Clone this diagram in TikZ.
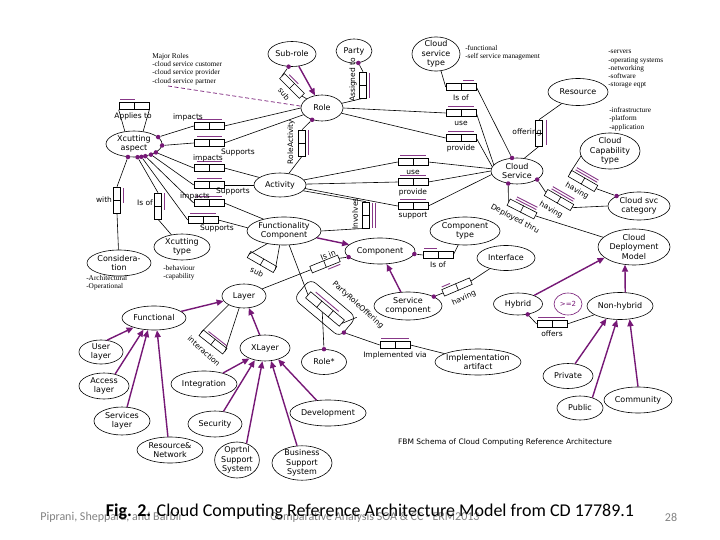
\documentclass[tikz,border=0pt]{standalone}
\usepackage{fontspec}
\setmainfont{DejaVu Sans}
\newfontfamily\annfont{Liberation Serif}
\newfontfamily\capfont{Carlito}
\usetikzlibrary{shapes.geometric,calc,arrows.meta}
\definecolor{pur}{RGB}{118,24,118}
\definecolor{barc}{RGB}{135,55,135}
\definecolor{footgray}{RGB}{130,130,130}
\tikzset{
 ent/.style={ellipse, draw, line width=0.6pt, inner sep=0pt, align=center, font=\fontsize{8}{9.5}\selectfont},
 sz/.style 2 args={minimum width=#1pt, minimum height=#2pt},
 relbox/.style={rectangle, draw, line width=0.6pt, inner sep=0pt, minimum height=7pt},
 ubarline/.style={draw=barc, line width=0.9pt},
 rlab/.style={font=\fontsize{7.5}{9}\selectfont, inner sep=0pt},
 ann/.style={font=\annfont\fontsize{7.3}{8.3}\selectfont, align=left, inner sep=0pt, anchor=north west},
 dot/.style={circle, fill=pur, inner sep=0pt, minimum size=4.5pt},
 isa/.style={draw=pur, line width=1.4pt, -{Triangle[length=7pt,width=6pt]}},
 foot/.style={font=\capfont\fontsize{12}{14}\selectfont, text=footgray, inner sep=0pt},
}
\newcommand\relnode[4][30]{\node[relbox, minimum width=#1pt, rotate=#4] (#2) at (#3) {}; \draw (#2.north) -- (#2.south);}
\newcommand\relbarline[5]{\begin{scope}[shift={(#1)}, rotate=#2]\draw[ubarline] (#3,#5) -- (#4,#5);\end{scope}}
\begin{document}
\begin{tikzpicture}[x=1pt, y=-1pt, line width=0.6pt]
\fill[white] (0,0) rectangle (720,540);
\useasboundingbox (0,0) rectangle (720,540);

% entities
\node[ent, sz={48}{25}] (subrole) at (292,54) {Sub-role};
\node[ent, sz={36}{24}] (party) at (354,51) {Party};
\node[ent, sz={48}{34}, inner ysep=-1.3pt] (cstype) at (436,54) {Cloud\\service\\type};
\node[ent, sz={42}{26}] (role) at (322,108) {Role};
\node[ent, sz={60}{27}] (resource) at (578,92) {Resource};
\node[ent, sz={60}{36}, inner ysep=-1.2pt] (cap) at (610,151) {Cloud\\Capability\\type};
\node[ent, sz={52}{26}] (cs) at (517,171) {Cloud\\Service};
\node[ent, sz={62}{28}] (cat) at (639,206) {Cloud svc\\category};
\node[ent, sz={72}{36}, inner ysep=-1.2pt] (cdm) at (634,247) {Cloud\\Deployment\\Model};
\node[ent, sz={56}{26}] (xc) at (134,144) {Xcutting\\aspect};
\node[ent, sz={52}{24}] (act) at (280,185) {Activity};
\node[ent, sz={74}{28}] (fc) at (284,231) {Functionality\\Component};
\node[ent, sz={64}{26}] (consid) at (119,263) {Considera-\\tion};
\node[ent, sz={56}{26}] (xtype) at (182,247) {Xcutting\\type};
\node[ent, sz={70}{26}] (comp) at (380,251) {Component};
\node[ent, sz={70}{28}] (comptype) at (465,231) {Component\\type};
\node[ent, sz={58}{25}] (iface) at (506,258) {Interface};
\node[ent, sz={68}{28}] (sc) at (408,306) {Service\\component};
\node[ent, sz={44}{24}] (layer) at (244,296) {Layer};
\node[ent, sz={64}{24}] (functional) at (154,318) {Functional};
\node[ent, sz={50}{26}] (xlayer) at (265,348) {XLayer};
\node[ent, sz={44}{24}] (user) at (101,352) {User\\layer};
\node[ent, sz={50}{26}] (access) at (104,386) {Access\\layer};
\node[ent, sz={56}{28}] (services) at (122,421) {Services\\layer};
\node[ent, sz={66}{26}] (resnet) at (170,450) {Resource\&\\Network};
\node[ent, sz={66}{26}] (integ) at (204,384) {Integration};
\node[ent, sz={54}{26}] (secur) at (215,424) {Security};
\node[ent, sz={44}{36}, inner ysep=-1.2pt] (oprtnl) at (237,460) {Oprtnl\\Support\\System};
\node[ent, sz={60}{34}, inner ysep=-1.2pt] (bss) at (302,463) {Business\\Support\\System};
\node[ent, sz={72}{26}] (devel) at (328,413) {Development};
\node[ent, sz={45}{25}] (rolestar) at (324,362) {Role*};
\node[ent, sz={86}{26}, inner xsep=-3.5pt] (implart) at (478,362) {Implementation\\artifact};
\node[ent, sz={49}{22}] (hybrid) at (518,304) {Hybrid};
\node[ent, draw=pur, text=pur, sz={28}{22}, font=\fontsize{7}{8}\selectfont] (ge2) at (568,304) {>=2};
\node[ent, sz={66}{27}] (nh) at (620,306) {Non-hybrid};
\node[ent, sz={50}{25}] (private) at (568,376) {Private};
\node[ent, sz={46}{24}] (public) at (580,408) {Public};
\node[ent, sz={68}{26}] (community) at (638,400) {Community};

% annotations
\node[ann] (mr) at (152,53) {Major Roles\\-cloud service customer\\-cloud service provider\\-cloud service partner};
\node[ann] (csann) at (465,45) {-functional\\-self service management};
\node[ann] (resann) at (608,50) {-servers\\-operating systems\\-networking\\-software\\-storage eqpt};
\node[ann] (infann) at (609,107) {-infrastructure\\-platform\\-application};
\node[ann] (conann) at (86,275) {-Architectural\\-Operational};
\node[ann] (xtann) at (163,265) {-behaviour\\-capability};
\coordinate (mrend) at (168,86);
\draw[pur, dashed, dash pattern=on 4pt off 2.5pt, line width=0.7pt] (mrend) -- (role.175);

% Xcutting aspect relations
\relnode{rApplies}{134,106}{0}
\relbarline{134,106}{0}{-14}{1}{-6.5}
\node[rlab] (lapp) at (133,116) {Applies to};
\draw (rApplies.south west) -- (xc.126);
\draw (rApplies.south east) -- (xc.54);

\node[dot] (x1) at (xc.16) {};
\node[dot] (x2) at (xc.-3) {};
\node[dot] (x3) at (xc.-21) {};
\node[dot] (x4) at (xc.-32) {};
\node[dot] (x5) at (xc.-47) {};
\node[dot] (x6) at (xc.-60) {};
\node[dot] (x7) at (xc.-75) {};
\node[dot] (x8) at (xc.-115) {};

\relnode{rImpR}{209,126}{0}\relbarline{209,126}{0}{-12}{13}{-6.5}
\node[rlab] (limpr) at (188,117) {impacts};
\relnode{rSupR}{209,143}{0}\relbarline{209,143}{0}{-12}{13}{-6.5}
\node[rlab] (lsupr) at (238,152) {Supports};
\relnode{rImpA}{209,168}{0}\relbarline{209,168}{0}{-12}{13}{-6.5}
\node[rlab] (limpa) at (208,158) {impacts};
\relnode{rSupA}{209,185}{0}\relbarline{209,185}{0}{-12}{13}{-6.5}
\node[rlab] (lsupa) at (233,191) {Supports};
\relnode{rImpF}{209,203}{0}\relbarline{209,203}{0}{-13}{13}{-6.5}
\node[rlab] (limpf) at (195,196) {impacts};
\relnode{rSupF}{203,220}{0}\relbarline{203,220}{0}{-13}{13}{-6.5}
\node[rlab] (lsupf) at (217,228) {Supports};
\relnode[26]{rWith}{117,200}{-90}\relbarline{117,200}{-90}{-12}{3}{-6.5}
\node[rlab] (lwith) at (104,200) {with};
\relnode[26]{rIsofX}{158,206}{-90}\relbarline{158,206}{-90}{-13}{4}{-6.5}
\node[rlab] (lisofx) at (145,203) {Is of};

\draw (x1) -- (rImpR.west); \draw (rImpR.east) -- (role.180);
\draw (x2) -- (rSupR.west); \draw (rSupR.east) -- (role.200);
\draw (x3) -- (rImpA.west); \draw (rImpA.east) -- (act.160);
\draw (x4) -- (rSupA.west); \draw (rSupA.east) -- (act.180);
\draw (x5) -- (rImpF.west); \draw (rImpF.east) -- (fc.150);
\draw (x6) -- (rSupF.west); \draw (rSupF.east) -- (fc.175);
\draw (x7) -- (rIsofX.west); \draw (rIsofX.east) -- (xtype);
\draw (x8) -- (rWith.west); \draw (rWith.east) -- (consid);

% Role relations
\node[dot] (sr1) at (subrole.-105) {};
\relnode[28]{rSub}{292,86}{-45}\relbarline{292,86}{-45}{-10}{3}{-6}
\node[rlab, rotate=-50] (lsub) at (284,94) {sub};
\draw (sr1) -- (rSub.west); \draw (rSub.east) -- (role);
\draw[isa] (subrole) -- (role);

\node[dot] (r1) at (role.-130) {};
\relnode[26]{rRA}{302,143}{-90}\relbarline{302,143}{-90}{-13}{12}{-6.5}
\node[rlab, rotate=90] (lra) at (291,142) {RoleActivity};
\draw (r1) -- (rRA.west); \draw (rRA.east) -- (act);

\node[dot] (p1) at (party.-70) {};
\relnode[26]{rAssign}{363,85}{-90}\relbarline{363,85}{-90}{-12}{13}{-6.5}
\node[rlab, rotate=90] (lass) at (353,80) {Assigned to};
\draw (p1) -- (rAssign.west); \draw (rAssign.east) -- (role);

% Cloud service relations
\node[dot] (c1) at (cs.111) {};
\relnode{rIsofCS}{461,87}{0}\relbarline{461,87}{0}{2}{13}{-6.5}
\node[rlab] (lisofcs) at (461,98) {Is of};
\draw (cstype) -- (rIsofCS.west); \draw (rIsofCS.east) -- (c1);

\relnode{rUseR}{461,113}{0}\relbarline{461,113}{0}{-13}{13}{-6.5}
\node[rlab] (luser) at (461,123) {use};
\relnode{rProvR}{461,138}{0}\relbarline{461,138}{0}{-13}{13}{-6.5}
\node[rlab] (lprovr) at (461,148) {provide};
\draw (role.0) -- (rUseR.west); \draw (rUseR.east) -- (cs.165);
\draw (role.-15) -- (rProvR.west); \draw (rProvR.east) -- (cs.170);

\relnode{rUseA}{413,162}{0}\relbarline{413,162}{0}{-13}{13}{-6.5}
\node[rlab] (lusea) at (413,172) {use};
\relnode{rProvA}{413,182}{0}\relbarline{413,182}{0}{-13}{13}{-6.5}
\node[rlab] (lprova) at (413,192) {provide};
\relnode{rSuppA}{413,206}{0}\relbarline{413,206}{0}{-13}{13}{-6.5}
\node[rlab] (lsuppa) at (413,216) {support};
\draw (act.12) -- (rUseA.west); \draw (rUseA.east) -- (cs.175);
\draw (act.2) -- (rProvA.west); \draw (rProvA.east) -- (cs.180);
\draw (act.-8) -- (rSuppA.west); \draw (rSuppA.east) -- (cs.188);

\relnode[26]{rInv}{366,215}{-90}
\relbarline{366,215}{-90}{-12}{13}{-6.5}
\relbarline{366,215}{-90}{-12}{13}{-9.5}
\node[rlab, rotate=90] (linv) at (355,214) {Involves};
\draw (act.-14) -- (rInv.west); \draw (rInv.east) -- (fc.east);

\relnode[26]{rOff}{539,133}{-90}\relbarline{539,133}{-90}{-13}{12}{-7}
\node[rlab] (loff) at (527,132) {offering};
\draw (resource) -- (rOff.west); \draw (rOff.east) -- (cs.60);

\node[dot] (k1) at (cat.156) {};
\relnode{rHav1}{583,181}{-30}
\relbarline{583,181}{-30}{-12}{13}{-6}
\relbarline{583,181}{-30}{-12}{13}{-8.5}
\node[rlab, rotate=-30] (lhav1) at (577,191) {having};
\draw (cap.190) -- (rHav1.west); \draw (rHav1.east) -- (k1);

\node[dot] (c2) at (cs.-23) {};
\relnode{rHav2}{559,200}{-30}
\relbarline{559,200}{-30}{-12}{13}{-6}
\relbarline{559,200}{-30}{-12}{13}{-8.5}
\node[rlab, rotate=-30] (lhav2) at (551,210) {having};
\draw (c2) -- (rHav2.west); \draw (rHav2.east) -- (cat.west);

\node[dot] (c3) at (cs.-125) {};
\relnode{rDep}{522,209}{-27}
\relbarline{522,209}{-27}{-10}{13}{-6}
\relbarline{522,209}{-27}{-10}{13}{-8.5}
\node[rlab, rotate=-28] (ldep) at (515,219) {Deployed thru};
\draw (c3) -- (rDep.west); \draw (rDep.east) -- (cdm);

% Component relations
\node[dot] (m1) at (comp.-5) {};
\relnode{rIsofC}{438,255}{0}\relbarline{438,255}{0}{-14}{-1}{-6.5}
\node[rlab] (lisofc) at (438,265) {Is of};
\draw (m1) -- (rIsofC.west); \draw (rIsofC.east) -- (comptype);

\node[dot] (m2) at (comp.-169) {};
\relnode{rIsin}{325,264}{22}\relbarline{325,264}{22}{1}{14}{6}
\node[rlab, rotate=22] (lisin) at (328,255) {Is in};
\draw (layer) -- (rIsin.west); \draw (rIsin.east) -- (m2);

\node[dot] (s1) at (sc.20) {};
\relnode{rHavSC}{457,287}{23}\relbarline{457,287}{23}{-14}{-5}{-6}
\node[rlab, rotate=25] (lhavsc) at (464,298) {having};
\draw (s1) -- (rHavSC.west); \draw (rHavSC.east) -- (iface);

\draw[isa] (fc) -- (comp);
\draw[isa] (sc) -- (comp);

% PartyRoleOffering
\node[draw, rounded corners=7pt, rotate=-40, minimum width=60pt, minimum height=26pt, inner sep=0pt] (pro) at (325,308) {};
\node[relbox, minimum width=44pt, minimum height=8pt, rotate=-40] (prb) at (325,309) {};
\draw ($(prb.north west)!1/3!(prb.north east)$) -- ($(prb.south west)!1/3!(prb.south east)$);
\draw ($(prb.north west)!2/3!(prb.north east)$) -- ($(prb.south west)!2/3!(prb.south east)$);
\relbarline{325,309}{-40}{-18}{12}{-7}
\node[rlab, rotate=-42] (lpro) at (358,305) {PartyRoleOffering};
\draw (fc.-70) -- (prb.west);
\node[dot] (q1) at (rolestar.90) {};
\draw (prb.south) -- (q1);
\draw (prb.east) -- (pro.north east);
\node[dot] (q2) at ($(pro.east)!0.5!(pro.south east)$) {};
\relnode{rImpl}{395,345}{0}\relbarline{395,345}{0}{-14}{14}{-6.5}
\node[rlab] (limpl) at (395,355) {Implemented via};
\draw (q2) -- (rImpl.west); \draw (rImpl.east) -- (implart);

% Layer
\relnode{rInter}{213,342}{-38}\relbarline{213,342}{-38}{-10}{14}{-5.5}
\node[rlab, rotate=-42] (linter) at (204,351) {interaction};
\draw (layer.-150) -- (rInter.west); \draw (layer.-112) -- (rInter.east);

\relnode{rSubF}{262,262}{-30}
\node[rlab, rotate=-25] (lsubf) at (257,272) {sub};
\draw (fc.-143) -- (rSubF.west); \draw (fc.-107) -- (rSubF.east);

\draw[isa] (functional) -- (layer);
\draw[isa] (xlayer) -- (layer);
\draw[isa] (user.63) -- (functional.-155);
\draw[isa] (access.47) -- (functional.-132);
\draw[isa] (services.70) -- (functional.-117);
\draw[isa] (resnet.99) -- (functional.-76);
\draw[isa] (integ.30) -- (xlayer.-146);
\draw[isa] (secur.56) -- (xlayer.-130);
\draw[isa] (oprtnl.60) -- (xlayer.-101);
\draw[isa] (bss.106) -- (xlayer.-65);
\draw[isa] (devel.132) -- (xlayer.-41);

% Deployment
\node[dot] (h1) at (hybrid.-47) {};
\relnode{rOffers}{552,324}{0}\relbarline{552,324}{0}{-14}{13}{-6.5}
\node[rlab] (loffers) at (552,334) {offers};
\draw (h1) -- (rOffers.west); \draw (rOffers.east) -- (nh);
\draw[isa] (hybrid.28) -- (cdm.-160);
\draw[isa] (nh.69) -- (cdm.-117);
\draw[isa] (private.60) -- (nh.-137);
\draw[isa] (public.40) -- (nh.-102);
\draw[isa] (community.90) -- (nh.-54);

% captions
\node[font=\fontsize{7.5}{9}\selectfont] (fbm) at (505,442) {FBM Schema of Cloud Computing Reference Architecture};
\node[foot, anchor=west] (f1) at (40,517) {Piprani, Sheppard, and Barbir};
\node[foot, anchor=west] (f2) at (270,517) {Comparative Analysis SOA \& CC - ERM2013};
\node[foot] (f3) at (671,517) {28};
\node[font=\capfont\fontsize{18}{20}\selectfont, inner sep=0pt] (figcap) at (370,512) {\textbf{Fig. 2.} Cloud Computing Reference Architecture Model from CD 17789.1};
\end{tikzpicture}
\end{document}
